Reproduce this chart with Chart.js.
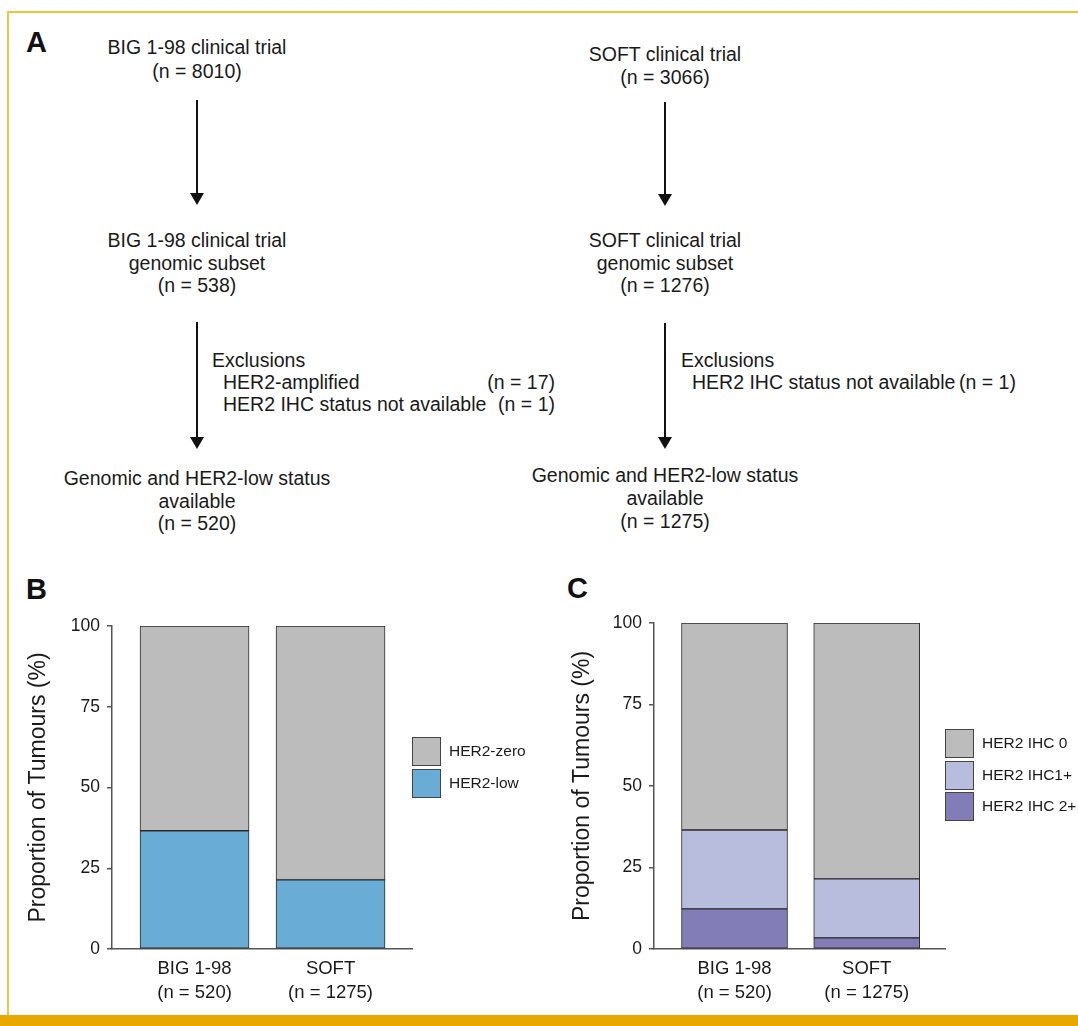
<!DOCTYPE html>
<html>
<head>
<meta charset="utf-8">
<script src="https://cdn.jsdelivr.net/npm/chart.js@4.4.1/dist/chart.umd.min.js"></script>
<style>
html, body { margin: 0; padding: 0; background: #fff; }
body { width: 1078px; height: 1026px; position: relative; overflow: hidden;
       font-family: "Liberation Sans", Arial, sans-serif; color: #1a1a1a; }
.frame-top { position: absolute; left: 8px; top: 11px; width: 1070px; height: 2px; background: #f3c33e; }
.frame-left { position: absolute; left: 7px; top: 11px; width: 2px; height: 1004px; background: #f3c33e; }
.frame-bottom { position: absolute; left: 0; top: 1015px; width: 1078px; height: 11px; background: #e8a800; }
.panel { position: absolute; font-weight: bold; font-size: 29px; line-height: 29px; color: #111; }
.t { position: absolute; white-space: nowrap; font-size: 19.5px; line-height: 22px; }
.c { text-align: center; width: 400px; }
.shaft { position: absolute; width: 2px; background: #111; }
.head { position: absolute; width: 0; height: 0; border-left: 7px solid transparent;
        border-right: 7px solid transparent; border-top: 12px solid #111; }
canvas { position: absolute; }
.leg { position: absolute; }
.leg .box { position: absolute; width: 27px; height: 27px; border: 1px solid #444; }
.leg .lab { position: absolute; white-space: nowrap; font-size: 15.5px; line-height: 18px; }
</style>
</head>
<body>
<div class="frame-top"></div>
<div class="frame-left"></div>
<div class="frame-bottom"></div>

<div class="panel" style="left:26px;top:28px">A</div>
<div class="panel" style="left:26px;top:575px">B</div>
<div class="panel" style="left:567px;top:574px">C</div>

<div id="flow"></div>

<canvas id="chartB" width="540" height="455" style="left:0;top:560px"></canvas>
<canvas id="chartC" width="538" height="455" style="left:540px;top:560px"></canvas>
<div id="legB" class="leg"></div>
<div id="legC" class="leg"></div>

<script>
const FONT = '"Liberation Sans", Arial, sans-serif';

// bars: categories and values (%)
const trials = ['BIG 1-98', 'SOFT'];
const trialN = ['(n = 520)', '(n = 1275)'];
const her2Low = [36.6, 21.4];
const her2Zero = [63.4, 78.6];
const ihc2 = [12.3, 3.4];
const ihc1 = [24.2, 18.1];
const ihc0 = [63.5, 78.5];
const yTicks = [0, 25, 50, 75, 100];

// flow chart text
const bigTop = ['BIG 1-98 clinical trial', '(n = 8010)'];
const softTop = ['SOFT clinical trial', '(n = 3066)'];
const bigSub = ['BIG 1-98 clinical trial', 'genomic subset', '(n = 538)'];
const softSub = ['SOFT clinical trial', 'genomic subset', '(n = 1276)'];
const bigFinal = ['Genomic and HER2-low status', 'available', '(n = 520)'];
const softFinal = ['Genomic and HER2-low status', 'available', '(n = 1275)'];

const flow = document.getElementById('flow');

function addLine(text, x, yMid, cls) {
    const d = document.createElement('div');
    d.className = 't ' + (cls || '');
    d.textContent = text;
    d.style.top = (yMid - 11) + 'px';
    if (cls === 'c') d.style.left = (x - 200) + 'px';
    else if (cls === 'r') { d.style.right = (1078 - x) + 'px'; }
    else d.style.left = x + 'px';
    flow.appendChild(d);
}

function addBlock(lines, cx, firstMid, step) {
    lines.forEach((l, i) => addLine(l, cx, firstMid + i * step, 'c'));
}

function addArrow(x, y0, y1) {
    const s = document.createElement('div');
    s.className = 'shaft';
    s.style.left = (x - 1) + 'px';
    s.style.top = y0 + 'px';
    s.style.height = (y1 - y0 - 10) + 'px';
    flow.appendChild(s);
    const h = document.createElement('div');
    h.className = 'head';
    h.style.left = (x - 7) + 'px';
    h.style.top = (y1 - 12) + 'px';
    flow.appendChild(h);
}

addBlock(bigTop, 197, 47, 24);
addBlock(softTop, 665, 54, 23);
addArrow(197, 100, 205);
addArrow(665, 102, 206);
addBlock(bigSub, 197, 240, 22.5);
addBlock(softSub, 665, 240, 22.5);
addArrow(197, 322, 449);
addArrow(665, 323, 449);

addLine('Exclusions', 212, 360);
addLine('HER2-amplified', 223, 382);
addLine('(n = 17)', 555, 382, 'r');
addLine('HER2 IHC status not available', 223, 404);
addLine('(n = 1)', 555, 404, 'r');

addLine('Exclusions', 681, 360);
addLine('HER2 IHC status not available', 692, 382);
addLine('(n = 1)', 959, 382);

addBlock(bigFinal, 197, 478, 22.5);
addBlock(softFinal, 665, 475, 23);

function stackedChart(id, sets, o) {
    return new Chart(document.getElementById(id), {
        type: 'bar',
        data: {
            datasets: sets.map(s => ({
                label: s.label,
                data: s.values.map((v, i) => ({ x: i + 1, y: v })),
                backgroundColor: s.color,
                borderColor: '#2a2a2a',
                borderWidth: 1,
                borderSkipped: false,
                barThickness: o.barW
            }))
        },
        options: {
            responsive: false,
            animation: false,
            events: [],
            layout: { padding: o.pad },
            plugins: { legend: { display: false }, tooltip: { enabled: false } },
            scales: {
                x: {
                    type: 'linear',
                    stacked: true,
                    offset: false,
                    bounds: 'data',
                    min: o.xMin,
                    max: o.xMax,
                    afterBuildTicks: s => { s.ticks = trials.map((t, i) => ({ value: i + 1 })); },
                    afterFit: s => { s.height = o.xH; },
                    grid: { display: false, offset: false },
                    border: { display: true, color: '#555', width: 1.5 },
                    ticks: {
                        padding: 0,
                        color: '#1a1a1a',
                        maxRotation: 0,
                        autoSkip: false,
                        font: { family: FONT, size: 18.5, lineHeight: 1.3 },
                        callback: v => [trials[v - 1], trialN[v - 1]]
                    }
                },
                y: {
                    type: 'linear',
                    stacked: true,
                    min: 0,
                    max: 100,
                    afterBuildTicks: s => { s.ticks = yTicks.map(v => ({ value: v })); },
                    afterFit: s => { s.width = o.yW; },
                    grid: { drawOnChartArea: false, drawTicks: true, tickLength: 5, color: '#555', lineWidth: 1.5 },
                    border: { display: true, color: '#555', width: 1.5 },
                    ticks: { padding: 7, color: '#1a1a1a', font: { family: FONT, size: 17.5 } },
                    title: {
                        display: true,
                        text: 'Proportion of Tumours (%)',
                        color: '#1a1a1a',
                        font: { family: FONT, size: 23 },
                        padding: { top: o.titlePad, bottom: 0 }
                    }
                }
            }
        }
    });
}

function buildLegend(chart, id, x, y0, step) {
    const el = document.getElementById(id);
    el.style.left = x + 'px';
    el.style.top = y0 + 'px';
    chart.data.datasets.slice().reverse().forEach((ds, i) => {
        const b = document.createElement('div');
        b.className = 'box';
        b.style.top = (i * step) + 'px';
        b.style.background = ds.backgroundColor;
        el.appendChild(b);
        const l = document.createElement('div');
        l.className = 'lab';
        l.textContent = ds.label;
        l.style.left = '37px';
        l.style.top = (i * step + 5) + 'px';
        el.appendChild(l);
    });
}

const chartB = stackedChart('chartB', [
    { label: 'HER2-low', values: her2Low, color: '#69acd6' },
    { label: 'HER2-zero', values: her2Zero, color: '#bcbcbc' }
], { pad: { left: 18, right: 128, top: 66, bottom: 6 }, yW: 94, xH: 60, titlePad: 7,
     xMin: 0.393, xMax: 2.599, barW: 109 });

const chartC = stackedChart('chartC', [
    { label: 'HER2 IHC 2+', values: ihc2, color: '#827db6' },
    { label: 'HER2 IHC1+', values: ihc1, color: '#b8bcdd' },
    { label: 'HER2 IHC 0', values: ihc0, color: '#bcbcbc' }
], { pad: { left: 18, right: 133, top: 63, bottom: 6 }, yW: 96, xH: 60, titlePad: 11,
     xMin: 0.391, xMax: 2.592, barW: 106 });

buildLegend(chartB, 'legB', 412, 737, 32);
buildLegend(chartC, 'legC', 945, 729, 31.5);
</script>
</body>
</html>
